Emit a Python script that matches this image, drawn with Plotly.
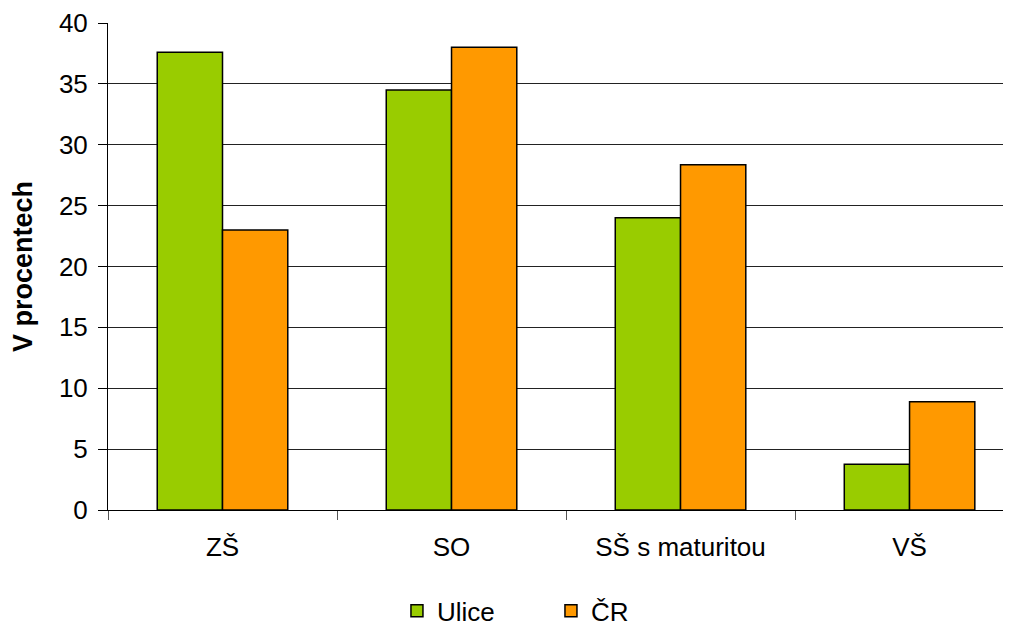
import plotly.graph_objects as go

categories = ["ZŠ", "SO", "SŠ s maturitou", "VŠ"]
ulice = [37.6, 34.5, 24.0, 3.75]
cr = [23.0, 38.0, 28.35, 8.9]
series_names = ["Ulice", "ČR"]
y_ticks = [0, 5, 10, 15, 20, 25, 30, 35, 40]

FONT = "Liberation Sans, Arial, sans-serif"

fig = go.Figure()
fig.add_trace(go.Bar(x=categories, y=ulice, name=series_names[0],
                     marker=dict(color="#99CC00", line=dict(color="#000000", width=1.5))))
fig.add_trace(go.Bar(x=categories, y=cr, name=series_names[1],
                     marker=dict(color="#FF9900", line=dict(color="#000000", width=1.5))))

# page body has an 8px margin, so the figure is 8px smaller and margins compensate
fig.update_layout(
    width=1003, height=619,
    margin=dict(l=100, r=0, t=15, b=117, autoexpand=False),
    paper_bgcolor="white", plot_bgcolor="white",
    barmode="group", bargap=0.43, bargroupgap=0,
    font=dict(family=FONT, size=26, color="black"),
    legend=dict(orientation="h", x=0.32, xanchor="left",
                y=-0.207, yanchor="middle", font=dict(size=26),
                entrywidth=109, itemwidth=30, bgcolor="rgba(0,0,0,0)"),
    xaxis=dict(range=[-0.5, 3.443], showline=True, linecolor="black", linewidth=1,
               ticks="outside", tickson="boundaries", ticklen=9, tickcolor="#555",
               showgrid=False, tickfont=dict(size=26), fixedrange=True, automargin=False,
               ticklabelstandoff=14),
    yaxis=dict(range=[0, 40], tickvals=y_ticks, showline=True, linecolor="black", linewidth=1,
               ticks="outside", ticklen=9, tickcolor="black",
               showgrid=True, gridcolor="#222", gridwidth=1, zeroline=False,
               tickfont=dict(size=26), automargin=False, ticklabelstandoff=5,
               title=dict(text="<b>V procentech</b>", font=dict(size=27), standoff=20)),
)

fig.write_html("out.html")
